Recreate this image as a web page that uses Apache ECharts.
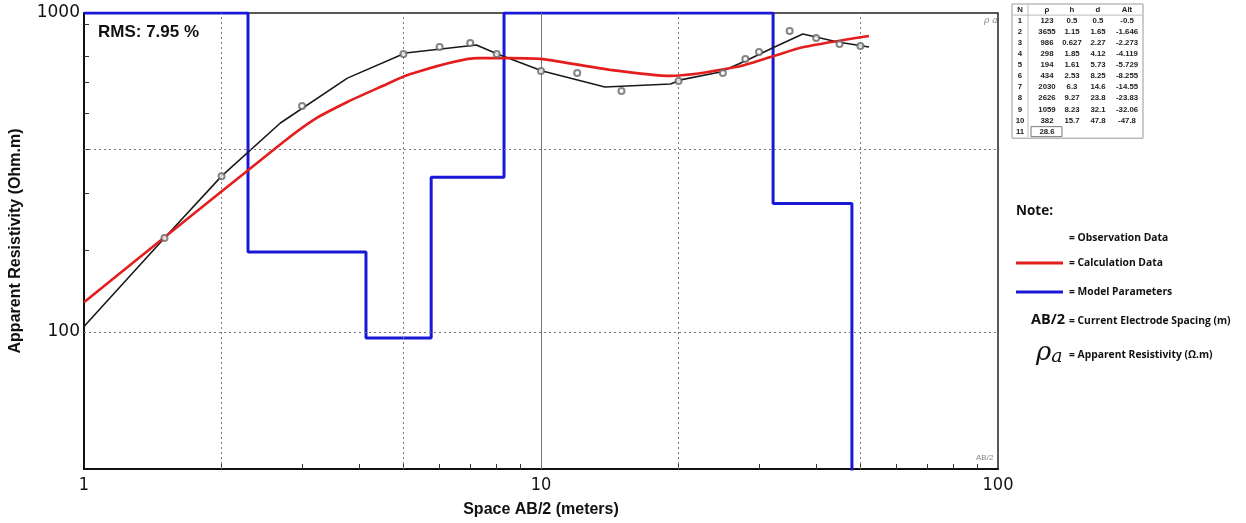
<!DOCTYPE html>
<html>
<head>
<meta charset="utf-8">
<script src="https://cdn.jsdelivr.net/npm/echarts@6/dist/echarts.min.js"></script>
<style>
html,body{margin:0;padding:0;background:#fff;}
#chart{width:1246px;height:523px;}
</style>
</head>
<body>
<div id="chart"></div>
<script>
// ---------------- DATA ----------------
// Observation points (AB/2 in m, apparent resistivity in Ohm.m)
const obsSpacing = [1.5, 2, 3, 5, 6, 7, 8, 10, 12, 15, 20, 25, 28, 30, 35, 40, 45, 50];
const obsRho     = [197, 308, 511, 744, 782, 805, 744, 658, 649, 570, 612, 649, 718, 755, 878, 835, 800, 788];

// Observed (field) curve - black line
const fieldSpacing = [1, 1.5, 2, 2.69, 3.77, 5.05, 7.22, 8.03, 10.07, 13.8, 19.2, 20.2, 24.7, 28.3, 32.1, 37.4, 44.6, 52.2];
const fieldRho     = [104, 197, 308, 452, 625, 749, 794, 744, 658, 586, 599, 617, 653, 712, 777, 859, 811, 782];

// Calculated curve - red line
const calcSpacing = [1, 2.73, 3.2, 3.77, 4.45, 5.18, 7.26, 8.58, 10.07, 14.2, 19.2, 26.7, 32.3, 37.6, 52.2];
const calcRho     = [124, 394, 465, 526, 586, 644, 722, 722, 717, 663, 635, 677, 733, 782, 847];

// Model parameters - blue step line (layer top spacing, layer resistivity)
const modelTop = [1, 2.285, 4.14, 5.75, 8.3, 32.2, 47.9];
const modelRho = [1000, 178, 95.8, 305.5, 1000, 253, 30];

// Axis ticks / labels
const xLabels = [1, 10, 100];
const xMinorTicks = [2, 3, 4, 5, 6, 7, 8, 9, 20, 30, 40, 50, 60, 70, 80, 90];
const yLabels = [100, 1000];
const yMinorTicks = [181, 272, 374, 485, 606, 731, 921];
const xDashedGrid = [2, 5, 20, 50];
const xSolidGrid = [10];
const yDashedGrid = [100, 374];

// Inversion result table
const tableHeader = ['N', 'ρ', 'h', 'd', 'Alt'];
const tableRho = ['123', '3655', '986', '298', '194', '434', '2030', '2626', '1059', '382', '28.6'];
const tableH   = ['0.5', '1.15', '0.627', '1.85', '1.61', '2.53', '6.3', '9.27', '8.23', '15.7'];
const tableD   = ['0.5', '1.65', '2.27', '4.12', '5.73', '8.25', '14.6', '23.8', '32.1', '47.8'];
const tableAlt = ['-0.5', '-1.646', '-2.273', '-4.119', '-5.729', '-8.255', '-14.55', '-23.83', '-32.06', '-47.8'];

const rmsText = 'RMS: 7.95 %';
const noteItems = ['= Observation Data', '= Calculation Data', '= Model Parameters'];

// ---------------- STYLE ----------------
const RED = '#e41e1e';
const BLUE = '#1818d6';
const BLACK = '#1a1a1a';

const zip = (a, b) => a.map((v, i) => [v, b[i]]);

// ---------------- GRAPHICS (table + note) ----------------
const graphics = [];
const tX = 1012, tY = 4, tW = 131, rowH = 11.1;
const colX = [1020, 1047, 1072, 1098, 1127];
const nRows = tableRho.length + 1;
graphics.push({type: 'rect', shape: {x: tX, y: tY, width: tW, height: rowH * nRows + 1},
  style: {fill: '#fff', stroke: '#999', lineWidth: 1}});
graphics.push({type: 'line', shape: {x1: tX, y1: tY + rowH, x2: tX + tW, y2: tY + rowH}, style: {stroke: '#bbb', lineWidth: 1}});
graphics.push({type: 'line', shape: {x1: 1028, y1: tY, x2: 1028, y2: tY + rowH * nRows}, style: {stroke: '#bbb', lineWidth: 1}});
const cellText = (txt, x, y) => ({type: 'text', x: x, y: y,
  style: {text: txt, fontSize: 7.8, fontWeight: 'bold', fontFamily: '"Liberation Sans", Arial, sans-serif',
    fill: '#222', align: 'center', verticalAlign: 'middle', textAlign: 'center', textVerticalAlign: 'middle'}});
tableHeader.forEach((h, c) => graphics.push(cellText(h, colX[c], tY + rowH * 0.5)));
tableRho.forEach((r, i) => {
  const y = tY + rowH * (i + 1.5);
  graphics.push(cellText(String(i + 1), colX[0], y));
  graphics.push(cellText(r, colX[1], y));
  if (i < tableH.length) {
    graphics.push(cellText(tableH[i], colX[2], y));
    graphics.push(cellText(tableD[i], colX[3], y));
    graphics.push(cellText(tableAlt[i], colX[4], y));
  } else {
    graphics.push({type: 'rect', shape: {x: 1031, y: y - 5, width: 31, height: 10},
      style: {fill: 'none', stroke: '#777', lineWidth: 1}});
  }
});

const noteFont = '"Open Sans", "Liberation Sans", sans-serif';
const noteText = (txt, x, y, size, extra) => Object.assign({type: 'text', x: x, y: y,
  style: Object.assign({text: txt, fontSize: size || 10.3, fontWeight: 'bold', fontFamily: noteFont, fill: '#111',
    verticalAlign: 'middle', textVerticalAlign: 'middle'}, extra || {})});
graphics.push(noteText('Note:', 1016, 211, 13.5));
graphics.push(noteText(noteItems[0], 1069, 238));
graphics.push({type: 'line', shape: {x1: 1016, y1: 263, x2: 1063, y2: 263}, style: {stroke: RED, lineWidth: 3}});
graphics.push(noteText(noteItems[1], 1069, 263));
graphics.push({type: 'line', shape: {x1: 1016, y1: 292, x2: 1063, y2: 292}, style: {stroke: BLUE, lineWidth: 3}});
graphics.push(noteText(noteItems[2], 1069, 292));
graphics.push(noteText('AB/2', 1031, 320, 14.5));
graphics.push(noteText('= Current Electrode Spacing (m)', 1069, 321));
graphics.push({type: 'text', x: 1036, y: 353, style: {
  text: '{r|ρ}{a|a}', verticalAlign: 'middle', textVerticalAlign: 'middle',
  rich: {r: {fontSize: 26, fontStyle: 'italic', fontFamily: '"DejaVu Serif", "Liberation Serif", serif', fill: '#111'},
         a: {fontSize: 19, fontStyle: 'italic', fontFamily: '"DejaVu Serif", "Liberation Serif", serif', fill: '#111', padding: [8, 0, 0, 0]}}}});
graphics.push(noteText('= Apparent Resistivity (Ω.m)', 1069, 355));

// plot annotations
graphics.push({type: 'text', x: 98, y: 32, z: 10, style: {text: rmsText, fontSize: 17, fontWeight: 'bold',
  fontFamily: '"Liberation Sans", Arial, sans-serif', fill: '#111', verticalAlign: 'middle', textVerticalAlign: 'middle'}});
graphics.push({type: 'text', x: 984, y: 21, z: 10, style: {text: 'ρ a', fontSize: 9, fontStyle: 'italic',
  fontFamily: '"DejaVu Serif", serif', fill: '#888', verticalAlign: 'middle', textVerticalAlign: 'middle'}});
graphics.push({type: 'text', x: 976, y: 458, z: 10, style: {text: 'AB/2', fontSize: 8,
  fontFamily: '"Liberation Sans", sans-serif', fill: '#888', verticalAlign: 'middle', textVerticalAlign: 'middle'}});

// ---------------- CHART ----------------
const gridDashed = {type: [2, 3], color: '#777', width: 1};
const markData = []
  .concat(xDashedGrid.map(v => ({xAxis: v, lineStyle: gridDashed})))
  .concat(xSolidGrid.map(v => ({xAxis: v, lineStyle: {type: 'solid', color: '#777', width: 1}})))
  .concat(yDashedGrid.map(v => ({yAxis: v, lineStyle: gridDashed})));

const chart = echarts.init(document.getElementById('chart'), null, {renderer: 'canvas'});
chart.setOption({
  animation: false,
  backgroundColor: '#fff',
  grid: {left: 84, top: 13, width: 914, height: 456, show: true, borderColor: '#222', borderWidth: 1.5, backgroundColor: '#fff'},
  xAxis: {
    type: 'log', logBase: 10, min: 1, max: 100,
    axisLine: {show: true, onZero: false, lineStyle: {color: '#111', width: 2}},
    axisTick: {show: true, inside: true, length: 5, customValues: xMinorTicks, lineStyle: {color: '#333', width: 1}},
    axisLabel: {customValues: xLabels, formatter: v => String(Math.round(v)), fontSize: 18, margin: 7,
      fontFamily: '"DejaVu Sans Condensed", "DejaVu Sans", sans-serif', color: '#111'},
    splitLine: {show: false}, minorTick: {show: false},
    name: 'Space AB/2 (meters)', nameLocation: 'middle', nameGap: 33,
    nameTextStyle: {fontSize: 16, fontWeight: 'bold', fontFamily: '"Liberation Sans", Arial, sans-serif', color: '#111'}
  },
  yAxis: {
    type: 'log', logBase: 10, min: 37.2, max: 1000,
    axisLine: {show: true, onZero: false, lineStyle: {color: '#111', width: 2}},
    axisTick: {show: true, inside: true, length: 5, customValues: yMinorTicks, lineStyle: {color: '#333', width: 1}},
    axisLabel: {customValues: yLabels, formatter: v => String(Math.round(v)), fontSize: 17, margin: 4,
      fontFamily: '"DejaVu Sans", sans-serif', color: '#111'},
    splitLine: {show: false}, minorTick: {show: false},
    name: 'Apparent Resistivity (Ohm.m)', nameLocation: 'middle', nameGap: 60, nameRotate: 90,
    nameTextStyle: {fontSize: 16, fontWeight: 'bold', fontFamily: '"Liberation Sans", Arial, sans-serif', color: '#111'}
  },
  graphic: graphics,
  series: [
    {name: 'grid', type: 'line', data: [], silent: true, z: 1,
      markLine: {silent: true, symbol: 'none', label: {show: false}, animation: false, data: markData}},
    {name: 'Model Parameters', type: 'line', step: 'end', data: zip(modelTop, modelRho), showSymbol: false, symbol: 'none',
      lineStyle: {color: BLUE, width: 3}, itemStyle: {color: BLUE}, z: 3},
    {name: 'Observation Curve', type: 'line', data: zip(fieldSpacing, fieldRho), showSymbol: false, symbol: 'none',
      lineStyle: {color: BLACK, width: 1.6}, itemStyle: {color: BLACK}, z: 4},
    {name: 'Calculation Data', type: 'line', smooth: 0.25, data: zip(calcSpacing, calcRho), showSymbol: false, symbol: 'none',
      lineStyle: {color: RED, width: 2.6}, itemStyle: {color: RED}, z: 5},
    {name: 'Observation Data', type: 'scatter', data: zip(obsSpacing, obsRho), symbol: 'emptyCircle', symbolSize: 6,
      itemStyle: {color: '#666', borderColor: '#666', borderWidth: 1.2}, z: 6}
  ]
});
</script>
</body>
</html>
